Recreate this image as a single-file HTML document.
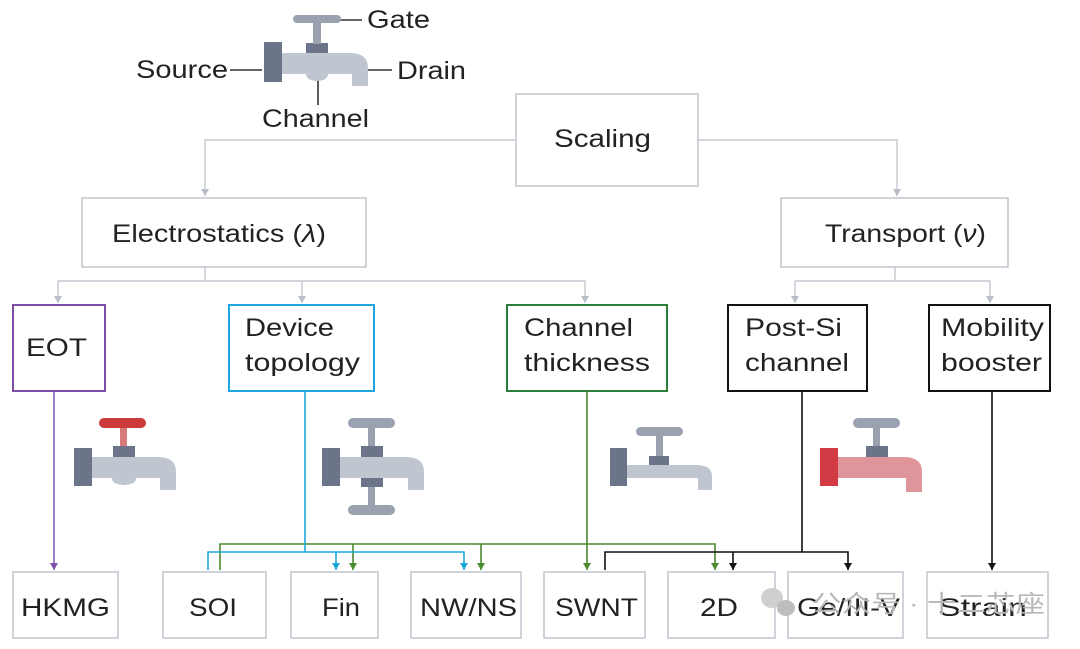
<!DOCTYPE html>
<html><head><meta charset="utf-8"><style>
html,body{margin:0;padding:0;background:#fff;}
svg{display:block;font-family:"Liberation Sans",Arial,sans-serif;}
text{fill:#222;}
</style></head><body>
<svg width="1080" height="649" viewBox="0 0 1080 649" xmlns="http://www.w3.org/2000/svg">
<defs>
<marker id="ag" markerWidth="8" markerHeight="8" refX="7" refY="4" orient="auto" markerUnits="userSpaceOnUse"><path d="M0,0 L7,4 L0,8 Z" fill="#b8bec8"/></marker>
<marker id="ap" markerWidth="8" markerHeight="8" refX="7" refY="4" orient="auto" markerUnits="userSpaceOnUse"><path d="M0,0 L7,4 L0,8 Z" fill="#7b4ea8"/></marker>
<marker id="ac" markerWidth="8" markerHeight="8" refX="7" refY="4" orient="auto" markerUnits="userSpaceOnUse"><path d="M0,0 L7,4 L0,8 Z" fill="#1ca8dd"/></marker>
<marker id="an" markerWidth="8" markerHeight="8" refX="7" refY="4" orient="auto" markerUnits="userSpaceOnUse"><path d="M0,0 L7,4 L0,8 Z" fill="#4a8a2e"/></marker>
<marker id="ak" markerWidth="8" markerHeight="8" refX="7" refY="4" orient="auto" markerUnits="userSpaceOnUse"><path d="M0,0 L7,4 L0,8 Z" fill="#111"/></marker>
</defs>
<g fill="none" stroke-width="1.6">
<rect x="516" y="94" width="182" height="92" stroke="#c4c9d0"/>
<rect x="82" y="198" width="284" height="69" stroke="#c4c9d0"/>
<rect x="781" y="198" width="227" height="69" stroke="#c4c9d0"/>
<rect x="13" y="305" width="92" height="86" stroke="#7b4ea8" stroke-width="2"/>
<rect x="229" y="305" width="145" height="86" stroke="#1ca8dd" stroke-width="2"/>
<rect x="507" y="305" width="160" height="86" stroke="#2e7d3a" stroke-width="2"/>
<rect x="728" y="305" width="139" height="86" stroke="#111" stroke-width="2"/>
<rect x="929" y="305" width="121" height="86" stroke="#111" stroke-width="2"/>
<g stroke="#c4c9d0">
<rect x="13" y="572" width="105" height="66"/><rect x="163" y="572" width="103" height="66"/>
<rect x="291" y="572" width="87" height="66"/><rect x="411" y="572" width="110" height="66"/>
<rect x="544" y="572" width="101" height="66"/><rect x="668" y="572" width="107" height="66"/>
<rect x="788" y="572" width="115" height="66"/><rect x="927" y="572" width="121" height="66"/>
</g>
<g stroke="#c4c9d0" stroke-width="1.4">
<path d="M516,140 H205 V196" marker-end="url(#ag)"/>
<path d="M698,140 H897 V196" marker-end="url(#ag)"/>
<path d="M205,267 V281 M58,281 H585 M895,267 V281 M795,281 H990"/>
<path d="M58,281 V303" marker-end="url(#ag)"/><path d="M302,281 V303" marker-end="url(#ag)"/>
<path d="M585,281 V303" marker-end="url(#ag)"/><path d="M795,281 V303" marker-end="url(#ag)"/>
<path d="M990,281 V303" marker-end="url(#ag)"/>
</g>
<path d="M54,391 V570" stroke="#7b4ea8" stroke-width="1.4" marker-end="url(#ap)"/>
<g stroke="#4a8a2e" stroke-width="1.6">
<path d="M220,570 V544 H715 V570" marker-end="url(#an)"/>
<path d="M353,544 V570" marker-end="url(#an)"/><path d="M481,544 V570" marker-end="url(#an)"/>
<path d="M587,391 V570" marker-end="url(#an)"/>
</g>
<g stroke="#1ca8dd" stroke-width="1.6">
<path d="M305,391 V552"/>
<path d="M208,570 V552 H464 V570" marker-end="url(#ac)"/>
<path d="M336,552 V570" marker-end="url(#ac)"/>
</g>
<g stroke="#111" stroke-width="1.6">
<path d="M802,391 V552"/>
<path d="M605,570 V552 H848 V570" marker-end="url(#ak)"/>
<path d="M733,552 V570" marker-end="url(#ak)"/>
<path d="M992,391 V570" marker-end="url(#ak)"/>
</g>
<g stroke="#333" stroke-width="1.6">
<path d="M334,20 H362 M230,70 H262 M364,70 H392 M318,80 V105"/>
</g>
</g>
<g>
 <!-- top -->
 <rect x="264" y="42" width="18" height="40" fill="#6b7488"/>
 <path d="M282,53 H350 Q368,53 368,68 V86 H352 V74 H282 Z" fill="#c0c6d0"/>
 <ellipse cx="317" cy="75" rx="11" ry="6" fill="#c0c6d0"/>
 <rect x="306" y="43" width="22" height="10" fill="#6b7488"/>
 <rect x="313" y="20" width="8" height="24" fill="#9aa2b0"/>
 <rect x="293" y="15" width="48" height="8" rx="4" fill="#9aa2b0"/>
 <!-- EOT -->
 <rect x="74" y="448" width="18" height="38" fill="#6b7488"/>
 <path d="M92,457 H158 Q176,457 176,472 V490 H160 V478 H92 Z" fill="#c0c6d0"/>
 <ellipse cx="124" cy="479" rx="12" ry="6" fill="#c0c6d0"/>
 <rect x="113" y="446" width="22" height="11" fill="#6b7488"/>
 <rect x="120" y="426" width="7" height="20" fill="#d87a7a"/>
 <rect x="99" y="418" width="47" height="10" rx="5" fill="#cc3a3a"/>
 <!-- Device topology -->
 <rect x="322" y="448" width="18" height="38" fill="#6b7488"/>
 <path d="M340,457 H406 Q424,457 424,472 V490 H408 V478 H340 Z" fill="#c0c6d0"/>
 <rect x="361" y="446" width="22" height="11" fill="#6b7488"/>
 <rect x="361" y="478" width="22" height="9" fill="#6b7488"/>
 <rect x="368" y="426" width="7" height="20" fill="#9aa2b0"/>
 <rect x="348" y="418" width="47" height="10" rx="5" fill="#9aa2b0"/>
 <rect x="368" y="487" width="7" height="20" fill="#9aa2b0"/>
 <rect x="348" y="505" width="47" height="10" rx="5" fill="#9aa2b0"/>
 <!-- Channel thickness -->
 <rect x="610" y="448" width="17" height="38" fill="#6b7488"/>
 <path d="M627,465 H696 Q712,465 712,476 V490 H698 V478 H627 Z" fill="#c0c6d0"/>
 <rect x="649" y="456" width="20" height="9" fill="#6b7488"/>
 <rect x="656" y="434" width="7" height="22" fill="#9aa2b0"/>
 <rect x="636" y="427" width="47" height="9" rx="4.5" fill="#9aa2b0"/>
 <!-- Post-Si -->
 <rect x="820" y="448" width="18" height="38" fill="#d23a44"/>
 <path d="M838,457 H904 Q922,457 922,472 V492 H906 V478 H838 Z" fill="#e0959a"/>
 <rect x="866" y="446" width="22" height="11" fill="#6b7488"/>
 <rect x="873" y="426" width="7" height="20" fill="#9aa2b0"/>
 <rect x="853" y="418" width="47" height="10" rx="5" fill="#9aa2b0"/>
</g>
<g font-size="25" lengthAdjust="spacingAndGlyphs">
<text x="367" y="28" textLength="63" lengthAdjust="spacingAndGlyphs">Gate</text>
<text x="136" y="78" textLength="92" lengthAdjust="spacingAndGlyphs">Source</text>
<text x="397" y="79" textLength="69" lengthAdjust="spacingAndGlyphs">Drain</text>
<text x="262" y="127" textLength="107" lengthAdjust="spacingAndGlyphs">Channel</text>
<text x="554" y="147" textLength="97" lengthAdjust="spacingAndGlyphs">Scaling</text>
<text x="112" y="242" textLength="214" lengthAdjust="spacingAndGlyphs">Electrostatics (<tspan font-style="italic">λ</tspan>)</text>
<text x="825" y="242" textLength="161" lengthAdjust="spacingAndGlyphs">Transport (<tspan font-style="italic">ν</tspan>)</text>
<text x="26" y="356" textLength="61" lengthAdjust="spacingAndGlyphs">EOT</text>
<text x="245" y="336" textLength="89" lengthAdjust="spacingAndGlyphs">Device</text>
<text x="245" y="371" textLength="115" lengthAdjust="spacingAndGlyphs">topology</text>
<text x="524" y="336" textLength="109" lengthAdjust="spacingAndGlyphs">Channel</text>
<text x="524" y="371" textLength="126" lengthAdjust="spacingAndGlyphs">thickness</text>
<text x="745" y="336" textLength="97" lengthAdjust="spacingAndGlyphs">Post-Si</text>
<text x="745" y="371" textLength="104" lengthAdjust="spacingAndGlyphs">channel</text>
<text x="941" y="336" textLength="103" lengthAdjust="spacingAndGlyphs">Mobility</text>
<text x="941" y="371" textLength="101" lengthAdjust="spacingAndGlyphs">booster</text>
<text x="21" y="616" textLength="89" lengthAdjust="spacingAndGlyphs">HKMG</text>
<text x="189" y="616" textLength="48" lengthAdjust="spacingAndGlyphs">SOI</text>
<text x="322" y="616" textLength="38" lengthAdjust="spacingAndGlyphs">Fin</text>
<text x="420" y="616" textLength="97" lengthAdjust="spacingAndGlyphs">NW/NS</text>
<text x="555" y="616" textLength="83" lengthAdjust="spacingAndGlyphs">SWNT</text>
<text x="700" y="616" textLength="38" lengthAdjust="spacingAndGlyphs">2D</text>
<text x="797" y="616" textLength="103" lengthAdjust="spacingAndGlyphs">Ge/III-V</text>
<text x="938" y="616" textLength="89" lengthAdjust="spacingAndGlyphs">Strain</text>
</g>
<g fill="#c8c8c8">
<ellipse cx="772" cy="598" rx="11" ry="10" fill="#cfcfcf"/>
<ellipse cx="786" cy="608" rx="9" ry="8" fill="#bdbdbd"/>
</g>
<text x="812" y="612" font-size="24" textLength="233" lengthAdjust="spacingAndGlyphs" style="fill:#b8b8b8;font-family:'Liberation Sans','Noto Sans CJK SC',sans-serif">公众号 · 十二芯座</text>
</svg>
</body></html>
